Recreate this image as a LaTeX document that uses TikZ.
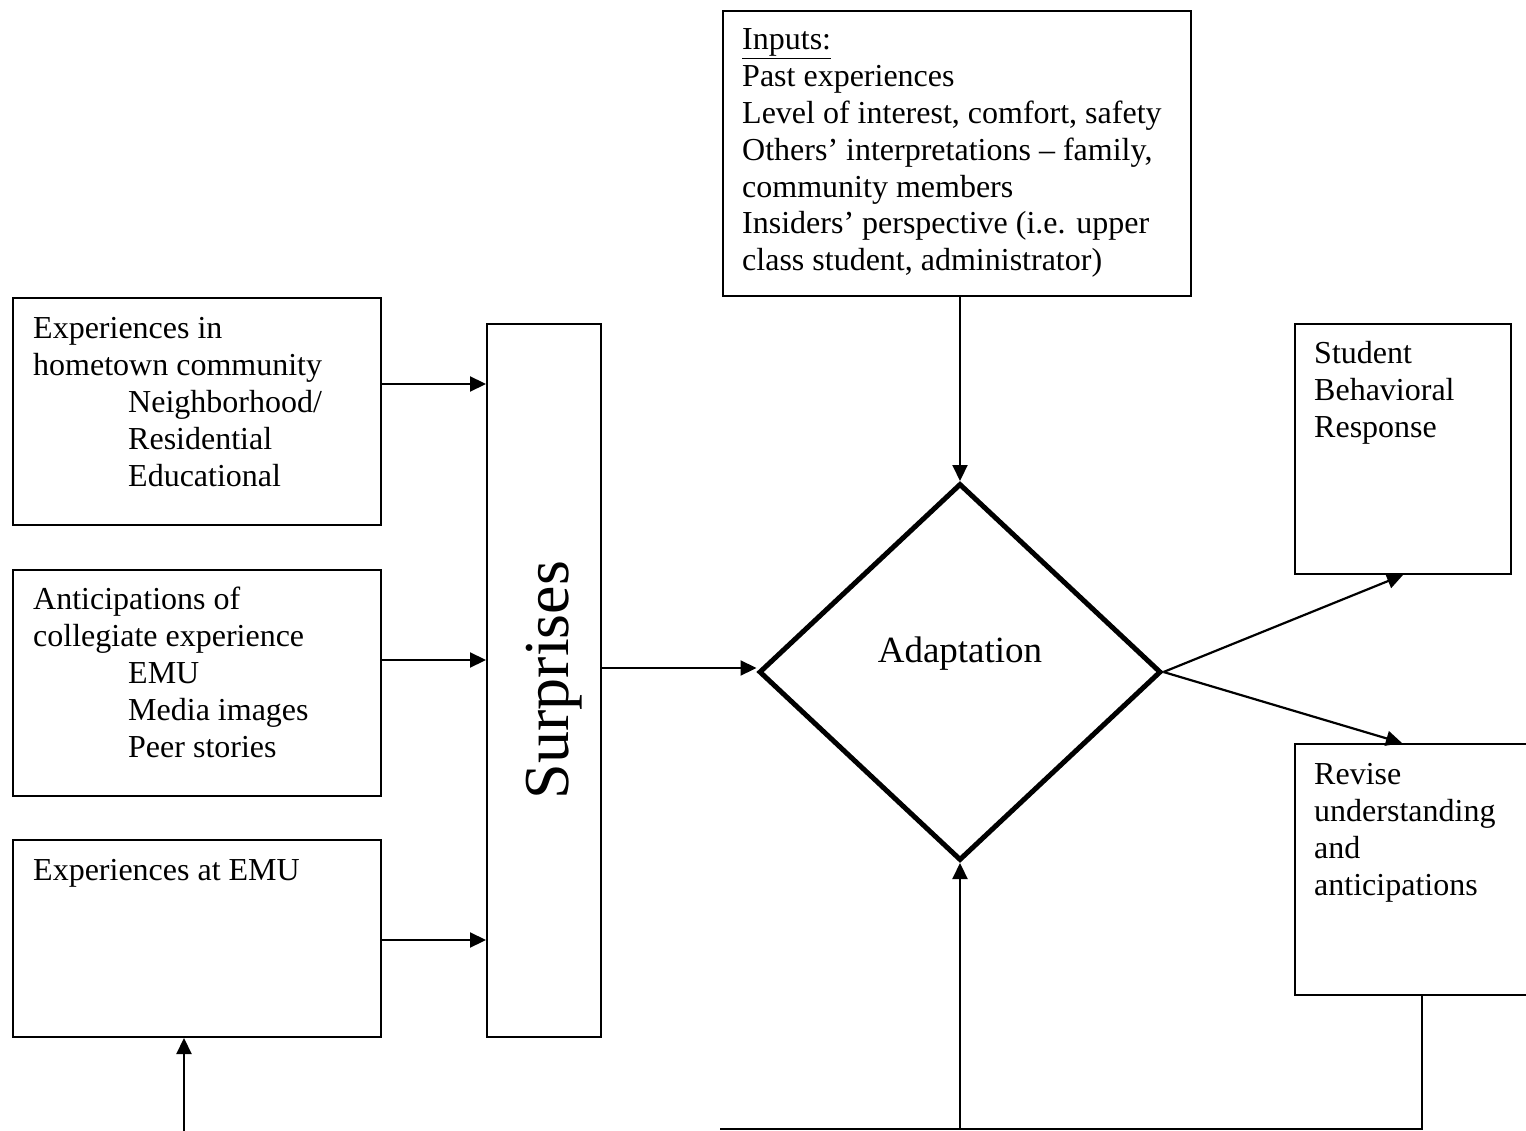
\documentclass[tikz,border=0pt]{standalone}
\usepackage{fontspec}
\setmainfont{Liberation Serif}
\usetikzlibrary{arrows.meta,shapes.geometric}
\newcommand\boxfont{\fontsize{32pt}{36.8pt}\selectfont}
\begin{document}
\begin{tikzpicture}[x=1pt,y=-1pt,
  box/.style={draw, line width=2pt, anchor=north west, inner sep=0pt},
  txt/.style={anchor=north west, inner sep=0pt, align=left, font=\boxfont},
  arr/.style={line width=2.2pt, -{Triangle[length=16pt,width=15pt]}},
  wire/.style={line width=2.2pt}]
\useasboundingbox[fill=white] (0,0) rectangle (1526,1131);

% input boxes on the left
\node[box, minimum width=368pt, minimum height=227pt] (home) at (12,297) {};
\node[txt] (hometxt) at (33,313) {\strut Experiences in\\hometown community\\\hspace*{95pt}Neighborhood/\\\hspace*{95pt}Residential\\\hspace*{95pt}Educational};

\node[box, minimum width=368pt, minimum height=226pt] (antic) at (12,569) {};
\node[txt] (antictxt) at (33,584) {\strut Anticipations of\\collegiate experience\\\hspace*{95pt}EMU\\\hspace*{95pt}Media images\\\hspace*{95pt}Peer stories};

\node[box, minimum width=368pt, minimum height=197pt] (emu) at (12,839) {};
\node[txt] (emutxt) at (33,855) {\strut Experiences at EMU};

% surprises column
\node[box, minimum width=114pt, minimum height=713pt] (surp) at (486,323) {};
\node[anchor=base, inner sep=0pt, rotate=90, font=\fontsize{64pt}{70pt}\selectfont] (surptxt) at (568,680) {Surprises};

% inputs box
\node[box, minimum width=468pt, minimum height=285pt] (inputs) at (722,10) {};
\node[txt] (inputstxt) at (742,24) {\strut\underline{Inputs:}\\Past experiences\\Level of interest, comfort, safety\\Others’ interpretations – family,\\community members\\Insiders’ perspective (i.e. upper\\class student, administrator)};

% adaptation decision
\node[draw, diamond, line width=5pt, minimum width=402pt, minimum height=377pt, inner sep=0pt, aspect=1.07] (adapt) at (960,672) {};
\node[anchor=base, inner sep=0pt, font=\fontsize{37pt}{44pt}\selectfont] (adapttxt) at (960,662) {Adaptation};

% outcome boxes on the right
\node[box, minimum width=216pt, minimum height=250pt] (stud) at (1294,323) {};
\node[txt] (studtxt) at (1314,338) {\strut Student\\Behavioral\\Response};

\node[box, minimum width=240pt, minimum height=251pt] (rev) at (1294,743) {};
\node[txt] (revtxt) at (1314,759) {\strut Revise\\understanding\\and\\anticipations};

% connectors
\coordinate (h1) at ([yshift=-87pt]home.north east);
\coordinate (a1) at ([yshift=-91pt]antic.north east);
\coordinate (e1) at ([yshift=-101pt]emu.north east);
\draw[arr] (h1) -- (h1 -| surp.west);
\draw[arr] (a1) -- (a1 -| surp.west);
\draw[arr] (e1) -- (e1 -| surp.west);
\coordinate (s1) at ([yshift=4pt]surp.east |- adapt.west);
\draw[arr] (s1) -- (s1 -| adapt.west);
\draw[arr] (adapt.north |- inputs.south) -- (adapt.north);
\draw[arr] (adapt.east) -- (stud.south);
\coordinate (revin) at ([xshift=108pt]rev.north west);
\draw[arr] (adapt.east) -- (revin);

\coordinate (emuin) at ([xshift=172pt]emu.south west);
\coordinate (emufoot) at (184,1131);
\draw[arr] (emufoot) -- (emuin);

\coordinate (revout) at ([xshift=128pt]rev.south west);
\coordinate (loopcorner) at (1422,1129);
\coordinate (loopend) at (720,1129);
\draw[wire] (revout) -- (loopcorner) -- (loopend);
\draw[arr] (adapt.south |- loopcorner) -- (adapt.south);
\end{tikzpicture}
\end{document}
